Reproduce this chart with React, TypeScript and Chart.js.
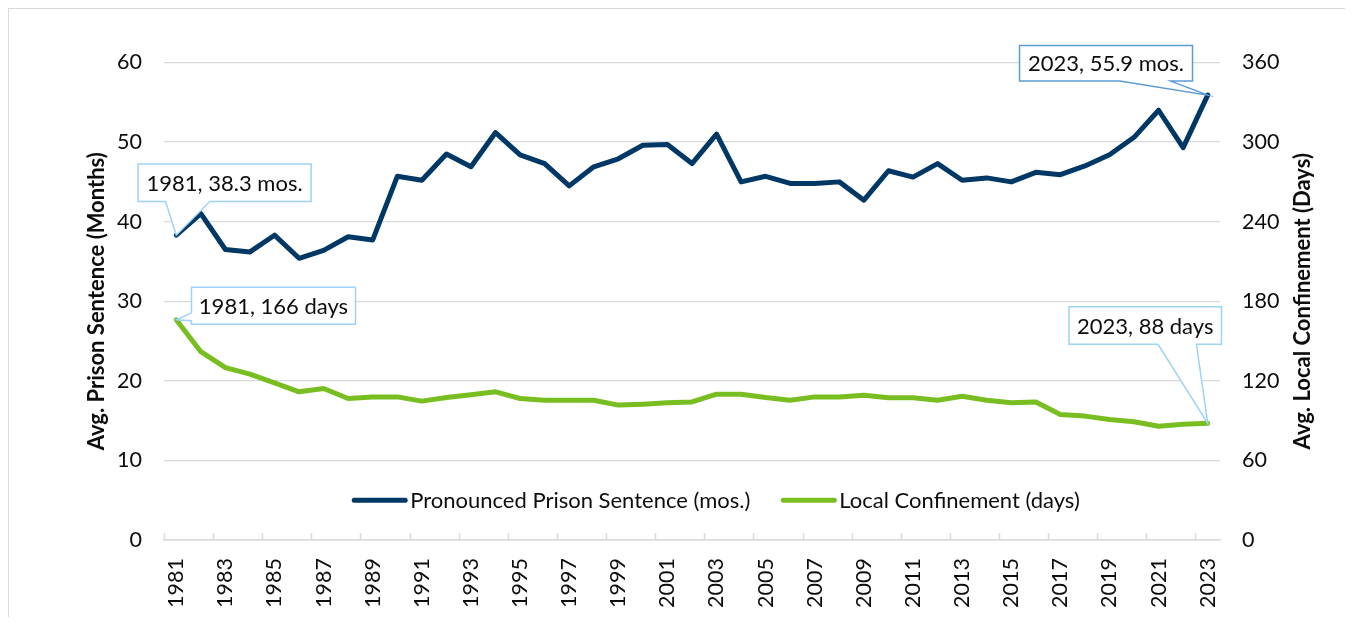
import React, { useEffect, useRef } from "react";
import { Chart, registerables } from "chart.js";

Chart.register(...registerables);

const FONT = "Lato, 'Noto Sans', sans-serif";

const years = [
  "1981", "1982", "1983", "1984", "1985", "1986", "1987", "1988", "1989", "1990",
  "1991", "1992", "1993", "1994", "1995", "1996", "1997", "1998", "1999", "2000",
  "2001", "2002", "2003", "2004", "2005", "2006", "2007", "2008", "2009", "2010",
  "2011", "2012", "2013", "2014", "2015", "2016", "2017", "2018", "2019", "2020",
  "2021", "2022", "2023",
];

const prisonMonths = [
  38.3, 41.0, 36.5, 36.2, 38.3, 35.4, 36.4, 38.1, 37.7, 45.7,
  45.2, 48.5, 46.9, 51.2, 48.4, 47.3, 44.5, 46.9, 47.9, 49.6,
  49.7, 47.3, 51.0, 45.0, 45.7, 44.8, 44.8, 45.0, 42.7, 46.4,
  45.6, 47.3, 45.2, 45.5, 45.0, 46.2, 45.9, 47.0, 48.4, 50.6,
  54.0, 49.3, 55.9,
];

const localDays = [
  166, 142, 130, 125, 118.5, 111.7, 114.2, 106.7, 107.9, 107.9,
  104.7, 107.4, 109.5, 111.7, 106.7, 105.4, 105.4, 105.4, 101.7, 102.4,
  103.4, 104.1, 109.9, 109.9, 107.4, 105.4, 107.9, 107.9, 109.2, 107.2,
  107.2, 105.4, 108.4, 105.4, 103.4, 104.1, 94.6, 93.4, 90.9, 89.1,
  85.8, 87.3, 88,
];

const leftTicks = [0, 10, 20, 30, 40, 50, 60];
const rightTicks = [0, 60, 120, 180, 240, 300, 360];

const seriesNames = ["Pronounced Prison Sentence (mos.)", "Local Confinement (days)"];
const seriesColors = ["#003865", "#78BE20"];
const axisTitles = ["Avg. Prison Sentence (Months)", "Avg. Local Confinement (Days)"];

const calloutTexts = ["1981, 38.3 mos.", "1981, 166 days", "2023, 55.9 mos.", "2023, 88 days"];
const calloutDataset = [0, 1, 0, 1];
const calloutIndex = [0, 0, 42, 42];

// styling of callout boxes (offsets relative to the data point)
const calloutStyle = [
  { dx: 48.3, dy: -52.5, w: 173, h: 37.5, side: "bottom", b1: -59, b2: -14.7, color: "#9DD3F7" },
  { dx: 97.2, dy: -14, w: 164, h: 37, side: "left", b1: 7, b2: 15, color: "#9DD3F7" },
  { dx: -101.7, dy: -31.8, w: 173, h: 35.5, side: "bottom", b1: 13.7, b2: 64.7, color: "#5B9BD5" },
  { dx: -62.5, dy: -97.8, w: 152.5, h: 37.5, side: "bottom", b1: 12.8, b2: 51.2, color: "#9DD3F7" },
];

const TEXT_COLOR = "#0d0d0d";
const GRID_COLOR = "#d9d9d9";
const TEXT_SIZE = 22;
const TICK_SIZE = 21.5;

const decorPlugin = {
  id: "decor",
  afterDraw(chart: any) {
    const { ctx, chartArea, scales } = chart;
    const xs = scales.x;
    ctx.save();

    // inside tick marks on x axis
    const step = xs.getPixelForValue(1) - xs.getPixelForValue(0);
    ctx.strokeStyle = GRID_COLOR;
    ctx.lineWidth = 1.5;
    for (let i = 0; i < years.length; i += 2) {
      const x = Math.round(xs.getPixelForValue(i) - step / 2) + 0.5;
      ctx.beginPath();
      ctx.moveTo(x, chartArea.bottom);
      ctx.lineTo(x, chartArea.bottom - 7);
      ctx.stroke();
    }

    // axis titles
    const midY = (chartArea.top + chartArea.bottom) / 2;
    ctx.fillStyle = TEXT_COLOR;
    ctx.font = `bold ${TEXT_SIZE}px ${FONT}`;
    ctx.textAlign = "center";
    ctx.textBaseline = "middle";
    const titleX = [chartArea.left - 67.5, chartArea.right + 83];
    for (let k = 0; k < 2; k++) {
      ctx.save();
      ctx.translate(titleX[k], midY);
      ctx.rotate(-Math.PI / 2);
      ctx.fillText(axisTitles[k], 0, 0);
      ctx.restore();
    }

    // legend inside the plot
    ctx.font = `${TEXT_SIZE}px ${FONT}`;
    const sample = 55;
    const gapText = 3;
    const gapItem = 31;
    const widths = seriesNames.map((n) => ctx.measureText(n).width);
    const total = widths.reduce((a, w) => a + sample + gapText + w, 0) + gapItem;
    let x = (chartArea.left + chartArea.right) / 2 + 24 - total / 2;
    const ly = scales.y.getPixelForValue(5);
    ctx.textAlign = "left";
    for (let k = 0; k < 2; k++) {
      ctx.strokeStyle = seriesColors[k];
      ctx.lineWidth = 5;
      ctx.lineCap = "round";
      ctx.beginPath();
      ctx.moveTo(x + 2, ly);
      ctx.lineTo(x + sample - 2, ly);
      ctx.stroke();
      ctx.fillStyle = TEXT_COLOR;
      ctx.fillText(seriesNames[k], x + sample + gapText, ly + 1);
      x += sample + gapText + widths[k] + gapItem;
    }

    // callouts
    ctx.font = `${TEXT_SIZE}px ${FONT}`;
    ctx.lineCap = "butt";
    ctx.lineJoin = "miter";
    for (let c = 0; c < calloutTexts.length; c++) {
      const st = calloutStyle[c];
      const pt = chart.getDatasetMeta(calloutDataset[c]).data[calloutIndex[c]];
      const px = pt.x;
      const py = pt.y;
      const cx = px + st.dx;
      const cy = py + st.dy;
      const l = cx - st.w / 2;
      const r = cx + st.w / 2;
      const t = cy - st.h / 2;
      const b = cy + st.h / 2;
      ctx.beginPath();
      if (st.side === "bottom") {
        ctx.moveTo(l, t);
        ctx.lineTo(r, t);
        ctx.lineTo(r, b);
        ctx.lineTo(cx + st.b2, b);
        ctx.lineTo(px, py);
        ctx.lineTo(cx + st.b1, b);
        ctx.lineTo(l, b);
      } else {
        ctx.moveTo(l, t);
        ctx.lineTo(r, t);
        ctx.lineTo(r, b);
        ctx.lineTo(l, b);
        ctx.lineTo(l, cy + st.b2);
        ctx.lineTo(px, py);
        ctx.lineTo(l, cy + st.b1);
      }
      ctx.closePath();
      ctx.fillStyle = "#ffffff";
      ctx.fill();
      ctx.strokeStyle = st.color;
      ctx.lineWidth = 1.5;
      ctx.stroke();
      ctx.fillStyle = TEXT_COLOR;
      ctx.textAlign = "center";
      ctx.textBaseline = "middle";
      ctx.fillText(calloutTexts[c], cx, cy + 1);
    }
    ctx.restore();
  },
};

export default function App() {
  const canvasRef = useRef<HTMLCanvasElement | null>(null);

  useEffect(() => {
    if (!canvasRef.current) return;
    Chart.defaults.font.family = FONT;
    const chart = new Chart(canvasRef.current, {
      type: "line",
      data: {
        labels: years,
        datasets: [
          {
            label: seriesNames[0],
            data: prisonMonths,
            yAxisID: "y",
            borderColor: seriesColors[0],
            backgroundColor: seriesColors[0],
            borderWidth: 5,
            pointRadius: 0,
            borderJoinStyle: "round",
            borderCapStyle: "round",
            tension: 0,
          },
          {
            label: seriesNames[1],
            data: localDays,
            yAxisID: "y1",
            borderColor: seriesColors[1],
            backgroundColor: seriesColors[1],
            borderWidth: 5,
            pointRadius: 0,
            borderJoinStyle: "round",
            borderCapStyle: "round",
            tension: 0,
          },
        ],
      },
      options: {
        responsive: false,
        animation: false,
        devicePixelRatio: 1,
        layout: { padding: { top: 53.5, left: 0, right: 0, bottom: 0 } },
        plugins: {
          legend: { display: false },
          tooltip: { enabled: false },
          title: { display: false },
        },
        scales: {
          x: {
            type: "category",
            offset: true,
            grid: { display: true, drawOnChartArea: false, drawTicks: false, offset: true },
            border: { display: true, color: GRID_COLOR, width: 1.5 },
            ticks: {
              autoSkip: false,
              maxRotation: 90,
              minRotation: 90,
              padding: 18,
              color: TEXT_COLOR,
              font: { size: TICK_SIZE, family: FONT },
              callback: (_v: any, i: number) => (i % 2 === 0 ? years[i] : ""),
            },
            afterFit: (s: any) => {
              s.height = 77;
            },
          },
          y: {
            position: "left",
            min: leftTicks[0],
            max: leftTicks[leftTicks.length - 1],
            afterBuildTicks: (s: any) => {
              s.ticks = leftTicks.map((v) => ({ value: v }));
            },
            grid: { color: GRID_COLOR, lineWidth: 1.3, drawTicks: false },
            border: { display: false },
            ticks: {
              padding: 22,
              color: TEXT_COLOR,
              font: { size: TICK_SIZE, family: FONT },
            },
            afterFit: (s: any) => {
              s.width = 155;
            },
          },
          y1: {
            position: "right",
            min: rightTicks[0],
            max: rightTicks[rightTicks.length - 1],
            afterBuildTicks: (s: any) => {
              s.ticks = rightTicks.map((v) => ({ value: v }));
            },
            grid: { drawOnChartArea: false, drawTicks: false },
            border: { display: false },
            ticks: {
              padding: 22,
              color: TEXT_COLOR,
              font: { size: TICK_SIZE, family: FONT },
            },
            afterFit: (s: any) => {
              s.width = 131;
            },
          },
        },
      },
      plugins: [decorPlugin],
    } as any);
    return () => chart.destroy();
  }, []);

  return (
    <div
      style={{
        position: "relative",
        width: 1342,
        height: 608,
        borderTop: "1px solid #d9d9d9",
        borderLeft: "1px solid #d9d9d9",
        borderRight: "1px solid #d9d9d9",
        overflow: "hidden",
        background: "#fff",
      }}
    >
      <canvas ref={canvasRef} width={1342} height={608} style={{ display: "block" }} />
    </div>
  );
}
